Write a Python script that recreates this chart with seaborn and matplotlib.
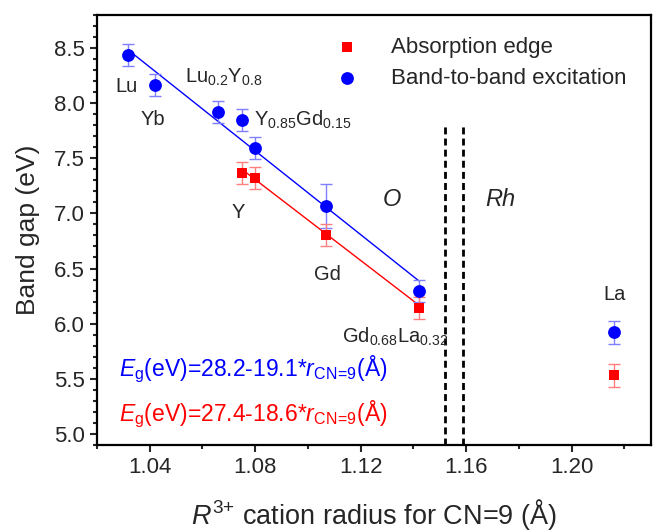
import numpy as np
import pandas as pd
import matplotlib
matplotlib.use("Agg")
import matplotlib.pyplot as plt
import seaborn as sns
from matplotlib.ticker import MultipleLocator

# Band-to-band excitation (blue circles)
bb_names = ["Lu", "Yb", "Lu0.2Y0.8", "Y0.85Gd0.15", "Y", "Gd", "Gd0.68La0.32", "La"]
bb_radius = [1.032, 1.042, 1.066, 1.075, 1.080, 1.107, 1.142, 1.216]
bb_gap = [8.44, 8.16, 7.92, 7.85, 7.59, 7.07, 6.30, 5.92]
bb_err = [0.10, 0.10, 0.10, 0.10, 0.10, 0.20, 0.10, 0.10]

# Absorption edge (red squares)
ae_radius = [1.075, 1.080, 1.107, 1.142, 1.216]
ae_gap = [7.37, 7.32, 6.80, 6.14, 5.53]
ae_err = [0.10, 0.10, 0.10, 0.10, 0.10]

# linear fits (end points)
bb_fit_x = [1.032, 1.142]
bb_fit_y = [8.48, 6.39]
ae_fit_x = [1.075, 1.142]
ae_fit_y = [7.40, 6.17]

# phase boundary (dashed lines)
boundary_x = [1.152, 1.159]

sns.set_style("ticks")
plt.rcParams["font.family"] = ["Liberation Sans", "DejaVu Sans"]
plt.rcParams["mathtext.fontset"] = "custom"
plt.rcParams["mathtext.rm"] = "Liberation Sans"
plt.rcParams["mathtext.it"] = "Liberation Sans:italic"
plt.rcParams["mathtext.bf"] = "Liberation Sans:bold"

blue = "#0000ff"
red = "#ff0000"

fig = plt.figure(figsize=(6.54, 5.31), dpi=100)
ax = fig.add_axes([0.148, 0.162, 0.847, 0.810])

bb = pd.DataFrame({"r": bb_radius, "Eg": bb_gap, "err": bb_err})
ae = pd.DataFrame({"r": ae_radius, "Eg": ae_gap, "err": ae_err})

ax.plot(bb_fit_x, bb_fit_y, color=blue, lw=1, zorder=2)
ax.plot(ae_fit_x, ae_fit_y, color=red, lw=1, zorder=2)

ax.errorbar(bb["r"], bb["Eg"], yerr=bb["err"], fmt="none", ecolor="#7f7fff",
            elinewidth=1, capsize=4, capthick=1, zorder=3)
ax.errorbar(ae["r"], ae["Eg"], yerr=ae["err"], fmt="none", ecolor="#ff7f7f",
            elinewidth=1, capsize=4, capthick=1, zorder=3)

sns.scatterplot(data=ae, x="r", y="Eg", marker="s", s=60, color=red,
                edgecolor=red, linewidth=0, label="Absorption edge", ax=ax, zorder=4)
sns.scatterplot(data=bb, x="r", y="Eg", marker="o", s=85, color=blue,
                edgecolor=blue, linewidth=0, label="Band-to-band excitation", ax=ax, zorder=4)

for bx in boundary_x:
    ax.plot([bx, bx], [4.9, 7.79], color="black", ls=(0, (2.5, 1.5)), lw=2, zorder=1)

# point labels
fs = 14.5
ax.text(1.0314, 8.15, "Lu", fontsize=fs, ha="center", va="center")
ax.text(1.0412, 7.85, "Yb", fontsize=fs, ha="center", va="center")
ax.text(1.0534, 8.23, r"Lu$_{0.2}$Y$_{0.8}$", fontsize=fs, ha="left", va="center")
ax.text(1.0795, 7.85, r"Y$_{0.85}$Gd$_{0.15}$", fontsize=fs, ha="left", va="center")
ax.text(1.0738, 7.01, "Y", fontsize=fs, ha="center", va="center")
ax.text(1.1076, 6.45, "Gd", fontsize=fs, ha="center", va="center")
ax.text(1.1129, 5.88, r"Gd$_{0.68}$La$_{0.32}$", fontsize=fs, ha="left", va="center")
ax.text(1.2164, 6.26, "La", fontsize=fs, ha="center", va="center")

ax.text(1.132, 7.13, "O", fontsize=17, style="italic", ha="center", va="center")
ax.text(1.173, 7.13, "Rh", fontsize=17, style="italic", ha="center", va="center")

ax.text(1.0285, 5.59, r"$E_{\rm g}$(eV)=28.2-19.1*$r_{\rm CN\!=\!9}$(Å)", fontsize=16.5,
        color=blue, ha="left", va="center")
ax.text(1.0285, 5.18, r"$E_{\rm g}$(eV)=27.4-18.6*$r_{\rm CN\!=\!9}$(Å)", fontsize=16.5,
        color=red, ha="left", va="center")

ax.set_xlim(1.02, 1.23)
ax.set_ylim(4.9, 8.8)
ax.xaxis.set_major_locator(MultipleLocator(0.04))
ax.xaxis.set_minor_locator(MultipleLocator(0.02))
ax.yaxis.set_major_locator(MultipleLocator(0.5))
ax.yaxis.set_minor_locator(MultipleLocator(0.1))
ax.set_xticks([1.04, 1.08, 1.12, 1.16, 1.20])
ax.set_xticklabels(["1.04", "1.08", "1.12", "1.16", "1.20"])
ax.tick_params(which="major", direction="out", length=5, width=1.5, labelsize=16,
               top=False, right=False)
ax.tick_params(which="minor", direction="out", length=3, width=1.5, top=False, right=False)
for sp in ax.spines.values():
    sp.set_linewidth(1.6)
    sp.set_color("black")

ax.set_xlabel(r"$R^{3{+}}$ cation radius for CN=9 (Å)", fontsize=19.5, labelpad=14)
ax.set_ylabel("Band gap (eV)", fontsize=19, labelpad=10)

ax.legend(loc="upper right", frameon=False, fontsize=16, handletextpad=1.0,
          markerscale=1.0, borderaxespad=0.3, labelspacing=0.45,
          bbox_to_anchor=(0.985, 0.985))

fig.savefig("out.png", dpi=100)
